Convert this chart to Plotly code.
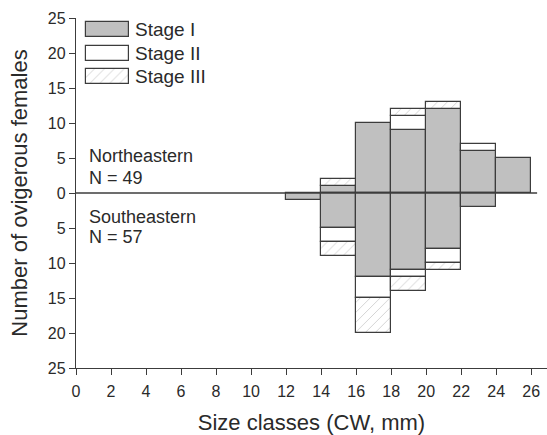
import plotly.graph_objects as go

# Size classes (carapace width, mm): lower bound of each 2-mm class
class_lower = [12, 14, 16, 18, 20, 22, 24]
class_width = 2

# Ovigerous females per class and embryonic stage
north_stage1 = [0, 1, 10, 9, 12, 6, 5]
north_stage2 = [0, 0, 0, 2, 0, 1, 0]
north_stage3 = [0, 1, 0, 1, 1, 0, 0]

south_stage1 = [1, 5, 12, 11, 8, 2, 0]
south_stage2 = [0, 2, 3, 1, 2, 0, 0]
south_stage3 = [0, 2, 5, 2, 1, 0, 0]

stage_names = ["Stage I", "Stage II", "Stage III"]
region_labels = [("Northeastern", "N = 49"), ("Southeastern", "N = 57")]

y_ticks = [-25, -20, -15, -10, -5, 0, 5, 10, 15, 20, 25]
x_ticks = list(range(0, 27, 2))

FONT = "Liberation Sans, Arial, sans-serif"
TEXT = "#2a2a2a"
EDGE = "#3c3c3c"
GRAY = "#c0c0c0"

hatch = dict(shape="/", fgcolor="#9a9a9a", bgcolor="white", size=7, solidity=0.12)
styles = [
    dict(color=GRAY, line=dict(color=EDGE, width=1.2)),
    dict(color="white", line=dict(color=EDGE, width=1.2)),
    dict(color="white", pattern=hatch, line=dict(color=EDGE, width=1.2)),
]


def nz(values, sign):
    return [sign * v if v else None for v in values]


fig = go.Figure()

for vals, st in zip([north_stage1, north_stage2, north_stage3], styles):
    fig.add_trace(go.Bar(x=class_lower, y=nz(vals, 1), width=class_width, offset=0,
                         marker=st, showlegend=False, hoverinfo="skip"))
for vals, st in zip([south_stage1, south_stage2, south_stage3], styles):
    fig.add_trace(go.Bar(x=class_lower, y=nz(vals, -1), width=class_width, offset=0,
                         marker=st, showlegend=False, hoverinfo="skip"))

# Key swatches drawn on an overlaid unit axis pair
key_left, key_len, key_h = 0.0212, 0.0907, 0.043
key_rows = [0.967, 0.899, 0.834]
for name, st, yc in zip(stage_names, styles, key_rows):
    fig.add_trace(go.Bar(x=[key_len], base=[key_left], y=[yc], width=[key_h], orientation="h",
                         marker=st, xaxis="x2", yaxis="y2", showlegend=False, hoverinfo="skip"))
    fig.add_annotation(x=0.121, y=yc, xref="paper", yref="paper", text=name, showarrow=False,
                       xanchor="left", yanchor="middle", font=dict(size=19, color=TEXT, family=FONT))

# Region labels
for (region, count), (y1, y2) in zip(region_labels, [(0.605, 0.543), (0.432, 0.374)]):
    fig.add_annotation(x=0.023, y=y1, xref="paper", yref="paper", text=region, showarrow=False,
                       xanchor="left", yanchor="middle", font=dict(size=18, color=TEXT, family=FONT))
    fig.add_annotation(x=0.023, y=y2, xref="paper", yref="paper", text=count, showarrow=False,
                       xanchor="left", yanchor="middle", font=dict(size=18, color=TEXT, family=FONT))

# Baseline separating the two regions
fig.add_shape(type="line", xref="x domain", yref="y", x0=0, x1=0.979, y0=0, y1=0,
              line=dict(color=EDGE, width=1.3), layer="above")

fig.update_layout(
    width=547, height=435,
    margin=dict(l=76, r=0, t=18, b=67),
    barmode="relative", bargap=0,
    plot_bgcolor="white", paper_bgcolor="white",
    font=dict(family=FONT, color=TEXT),
    xaxis=dict(range=[0, 26.9], tickvals=x_ticks, ticks="outside", ticklen=6, tickwidth=1.2,
               tickcolor=EDGE, showline=True, linecolor=EDGE, linewidth=1.3, showgrid=False,
               zeroline=False, tickfont=dict(size=16, color=TEXT), ticklabelstandoff=3,
               title=dict(text="Size classes (CW, mm)", font=dict(size=22, color=TEXT), standoff=16)),
    yaxis=dict(range=[-25, 25], tickvals=y_ticks, ticktext=[str(abs(v)) for v in y_ticks],
               ticks="outside", ticklen=6, tickwidth=1.2, tickcolor=EDGE, showline=True,
               linecolor=EDGE, linewidth=1.3, showgrid=False, zeroline=False,
               tickfont=dict(size=16, color=TEXT),
               title=dict(text="Number of ovigerous females", font=dict(size=22, color=TEXT), standoff=14)),
    xaxis2=dict(range=[0, 1], overlaying="x", visible=False, fixedrange=True),
    yaxis2=dict(range=[0, 1], overlaying="y", visible=False, fixedrange=True),
)

fig.write_html("out.html")
